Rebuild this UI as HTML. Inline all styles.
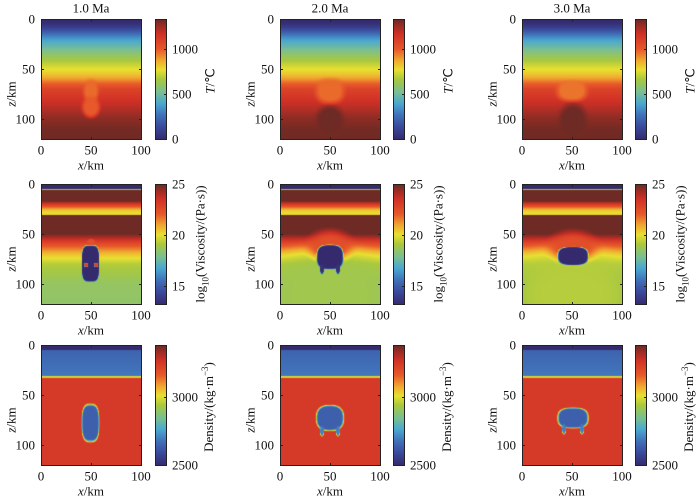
<!DOCTYPE html>
<html><head><meta charset="utf-8">
<style>
body{margin:0;background:#fff;}
#fig{position:relative;width:700px;height:499px;overflow:hidden;background:#fff;font-family:"Liberation Serif",serif;color:#111;}
.t{position:absolute;font-size:13px;line-height:13px;white-space:nowrap;}
canvas{position:absolute;}
.frame{position:absolute;border:1px solid #222;box-sizing:border-box;}
.tick{position:absolute;background:#222;}
</style></head><body>
<div id="fig"></div>
<script>
// ---- data (depth km -> value) ----
const tempDepths = [0,5,10,15,20,25,30,35,40,45,50,55,60,65,70,80,90,100,110,120];
const tempValues = [0,30,130,260,370,450,520,590,650,710,770,820,900,1000,1090,1160,1220,1285,1320,1330];
const viscDepths = [0,4.5,5,5.6,6.2,17,19,22,25,27,29.5,30.5,31,50,54,60,70,80,100,120];
const viscValues = [13.2,13.2,19,19,25,25,23.8,22.5,21,20.3,20,20.3,25,25,24,22.5,20.6,19.3,18.6,18.5];
const densDepths = [0,4.8,5.4,31,31.6,32.6,33.2,120];
const densValues = [2500,2500,2650,2690,3050,3050,3250,3250];
// blobs: [centerX km, centerZ km, radiusX km, radiusZ km, value, shapeExponent, edgeSoftness]
const tempBlobs1 = [[50,72,7.5,11,975,2,0.35],[50,88,8.5,10,1010,2,0.35]];
const tempBlobs2 = [[50,100,13,13,1335,2,0.4],[50,72,14,12,975,2.5,0.3]];
const tempBlobs3 = [[51,100,13,15,1335,2,0.4],[50,72,15,10,960,2.5,0.3]];
const viscBlobs1 = [[50,58,4,3,22.5,2,0.3],[49.5,79.5,8.5,18,13.2,4,0.06],[45,81,2,2,23,2,0.3],[55,81,2,2,23,2,0.3]];
const viscBlobs2 = [[50,110,60,40,18.9,2,0.5],[50,62,20,14,22.5,2,0.5],[50,73,13,12,13.2,3,0.08],[42,85,2,5,13.5,2,0.2],[58,85,2,5,13.5,2,0.2]];
const viscBlobs3 = [[50,110,60,40,19.3,2,0.5],[51,63,22,14,22.5,2,0.5],[51,72,15,9,13.2,3,0.08]];
const densBlobs1 = [[49.5,78,8.5,18.5,2640,3,0.12]];
const densBlobs2 = [[50,73,13.5,12.5,2640,2.6,0.12],[42,86,2,5,2700,2,0.3],[58,86,2,5,2700,2,0.3]];
const densBlobs3 = [[51,73,15,10,2640,2.8,0.12],[42,84,2,5,2700,2,0.3],[60,84,2,5,2700,2,0.3]];
const titles = ["1.0 Ma","2.0 Ma","3.0 Ma"];
const xTicks = [0,50,100];
const zTicks = [0,50,100];
const tempCbTicks = [0,500,1000];
const viscCbTicks = [15,20,25];
const densCbTicks = [2500,3000];

// ---- colormap ----
const cmap=[[0,[53,42,110]],[0.1,[58,72,154]],[0.2,[64,112,184]],[0.3,[74,168,208]],[0.4,[124,192,144]],[0.5,[168,200,64]],[0.58,[232,224,48]],[0.66,[240,168,48]],[0.75,[232,90,42]],[0.88,[208,48,38]],[1,[110,42,36]]];
function col(f){f=Math.max(0,Math.min(1,f));for(let i=1;i<cmap.length;i++){if(f<=cmap[i][0]){const a=cmap[i-1],b=cmap[i];const t=(f-a[0])/(b[0]-a[0]);return a[1].map((v,k)=>v+(b[1][k]-v)*t);}}return cmap[cmap.length-1][1];}
function prof(ds,vs,z){if(z<=ds[0])return vs[0];for(let i=1;i<ds.length;i++){if(z<=ds[i]){const t=(z-ds[i-1])/(ds[i]-ds[i-1]);return vs[i-1]+(vs[i]-vs[i-1])*t;}}return vs[vs.length-1];}
function field(ds,vs,blobs,x,z){let v=prof(ds,vs,z);for(const b of blobs){const d=Math.pow(Math.pow(Math.abs((x-b[0])/b[2]),b[5])+Math.pow(Math.abs((z-b[1])/b[3]),b[5]),1/b[5]);const e=b[6];let w=(1+e-d)/(2*e);w=Math.max(0,Math.min(1,w));w=w*w*(3-2*w);v=v*(1-w)+b[4]*w;}return v;}

const fig=document.getElementById('fig');
function txt(s,x,y,name,align,extra){const d=document.createElement('div');d.className='t';d.innerHTML=s;d.style.left=x+'px';d.style.top=y+'px';
 d.style.transform=(align==='c'?'translate(-50%,-50%)':align==='r'?'translate(-100%,-50%)':'translate(0,-50%)')+(extra||'');
 
 
 fig.appendChild(d);return d;}
function tick(x,y,w,h){const t=document.createElement('div');t.className='tick';t.style.left=x+'px';t.style.top=y+'px';t.style.width=w+'px';t.style.height=h+'px';
 
 
 fig.appendChild(t);}

const colX=[41,280,522], cbX=[155,393,635];
const rows=[
 {y:19,ds:tempDepths,vs:tempValues,blobs:[tempBlobs1,tempBlobs2,tempBlobs3],min:0,max:1333,ticks:tempCbTicks,label:'<i>T</i>/℃',name:'temperature',lblx:55},
 {y:184,ds:viscDepths,vs:viscValues,blobs:[viscBlobs1,viscBlobs2,viscBlobs3],min:13.2,max:25,ticks:viscCbTicks,label:'log<sub style="font-size:9px">10</sub>(Viscosity/(Pa·s))',name:'viscosity',lblx:48},
 {y:345,ds:densDepths,vs:densValues,blobs:[densBlobs1,densBlobs2,densBlobs3],min:2500,max:3380,ticks:densCbTicks,label:'Density/(kg·m<sup style="font-size:9px">−3</sup>)',name:'density',lblx:52}
];
const W=101,H=121;
rows.forEach((r,ri)=>{
 for(let c=0;c<3;c++){
  const cv=document.createElement('canvas');cv.width=W;cv.height=H;cv.style.left=colX[c]+'px';cv.style.top=r.y+'px';
  
  
  fig.appendChild(cv);
  const ctx=cv.getContext('2d');const img=ctx.createImageData(W,H);
  for(let j=0;j<H;j++)for(let i=0;i<W;i++){const v=field(r.ds,r.vs,r.blobs[c],i+0.5,j+0.5);const cc=col((v-r.min)/(r.max-r.min));const k=(j*W+i)*4;img.data[k]=cc[0];img.data[k+1]=cc[1];img.data[k+2]=cc[2];img.data[k+3]=255;}
  ctx.putImageData(img,0,0);
  const fr=document.createElement('div');fr.className='frame';fr.style.left=colX[c]+'px';fr.style.top=r.y+'px';fr.style.width=W+'px';fr.style.height=H+'px';
  
  
  fig.appendChild(fr);
  zTicks.forEach(z=>{tick(colX[c],r.y+z,3,1);tick(colX[c]+W-3,r.y+z,3,1);txt(String(z),colX[c]-6,r.y+z,'z-tick-label','r');});
  xTicks.forEach(x=>{tick(colX[c]+x,r.y+H-3,1,3);tick(colX[c]+x,r.y,1,3);txt(String(x),colX[c]+x,r.y+H+10,'x-tick-label','c');});
  txt('<i>x</i>/km',colX[c]+50,r.y+H+25,'x-axis-title','c');
  txt('<i>z</i>/km',colX[c]-30,r.y+75,'z-axis-title','c',' rotate(-90deg)');
  if(ri===0) txt(titles[c],colX[c]+50,8,'panel-title','c');
  const cb=document.createElement('canvas');cb.width=12;cb.height=H;cb.style.left=cbX[c]+'px';cb.style.top=r.y+'px';
  
  
  fig.appendChild(cb);
  const bx=cb.getContext('2d');for(let j=0;j<H;j++){const cc=col(1-j/(H-1));bx.fillStyle='rgb('+cc.map(Math.round).join(',')+')';bx.fillRect(0,j,12,1);}
  const cf=document.createElement('div');cf.className='frame';cf.style.left=cbX[c]+'px';cf.style.top=r.y+'px';cf.style.width='12px';cf.style.height=H+'px';
  
  
  fig.appendChild(cf);
  r.ticks.forEach(t=>{const yy=r.y+(H-1)*(1-(t-r.min)/(r.max-r.min));tick(cbX[c]+9,yy,3,1);txt(String(t),cbX[c]+17,yy,'colorbar-tick-label','l');});
  const ly = ri===0? r.y+62 : ri===1? r.y+60 : r.y+62;
  txt(r.label,cbX[c]+r.lblx,ly,'colorbar-title','c',' rotate(-90deg)');
 }
});
</script>
</body></html>
